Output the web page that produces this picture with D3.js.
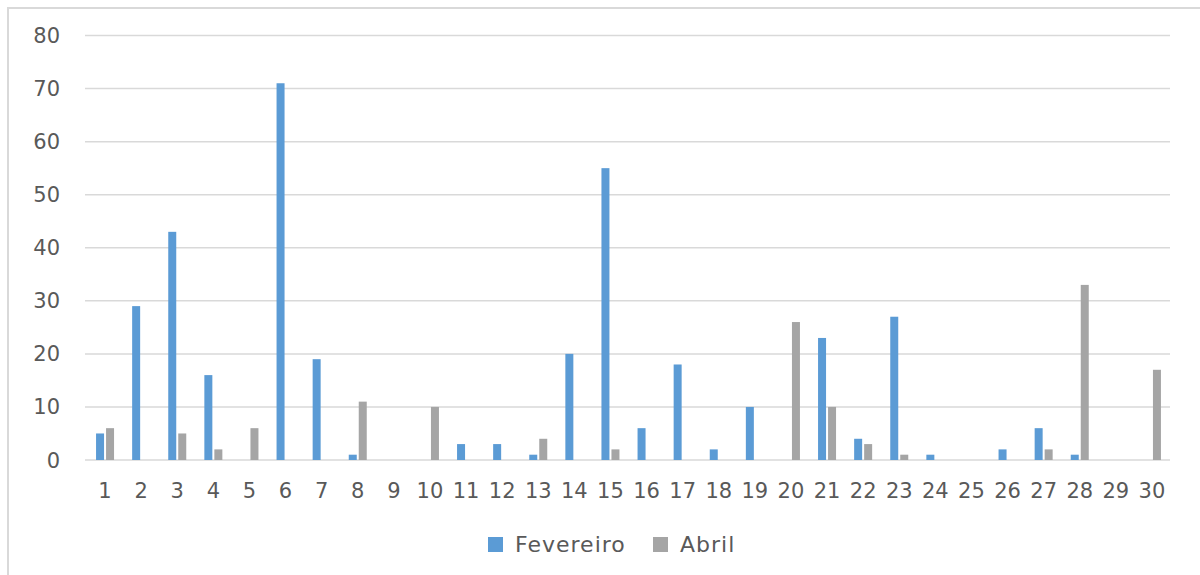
<!DOCTYPE html>
<html>
<head>
<meta charset="utf-8">
<script src="https://cdn.jsdelivr.net/npm/d3@7"></script>
<style>
  body { margin: 0; background: #fff; }
  text { font-family: "DejaVu Sans", sans-serif; fill: #595959; }
</style>
</head>
<body>
<svg width="1200" height="575"></svg>
<script>
const days = d3.range(1, 31).map(String);
const seriesNames = ["Fevereiro", "Abril"];
const fevereiro = [5, 29, 43, 16, 0, 71, 19, 1, 0, 0, 3, 3, 1, 20, 55, 6, 18, 2, 10, 0, 23, 4, 27, 1, 0, 2, 6, 1, 0, 0];
const abril = [6, 0, 5, 2, 6, 0, 0, 11, 0, 10, 0, 0, 4, 0, 2, 0, 0, 0, 0, 26, 10, 3, 1, 0, 0, 0, 2, 33, 0, 17];
const yTicks = [0, 10, 20, 30, 40, 50, 60, 70, 80];
const colors = ["#5b9bd5", "#a5a5a5"];

const svg = d3.select("svg");

// moldura do gráfico
svg.append("rect")
    .attr("x", 8).attr("y", 8)
    .attr("width", 1250).attr("height", 620)
    .attr("fill", "none")
    .attr("stroke", "#d9d9d9")
    .attr("stroke-width", 2);

const x = d3.scaleBand().domain(days).range([87, 1170]);
const x1 = d3.scaleBand().domain(seriesNames)
    .range([x.bandwidth() / 2 - 9, x.bandwidth() / 2 + 9])
    .paddingInner(0.2);
const y = d3.scaleLinear().domain([0, 80]).range([460, 35.5]);

// linhas de grade
svg.append("g")
    .selectAll("line")
    .data(yTicks)
    .enter()
    .append("line")
    .attr("x1", 85).attr("x2", 1170)
    .attr("y1", d => y(d)).attr("y2", d => y(d))
    .attr("stroke", "#d9d9d9")
    .attr("stroke-width", 1.5);

// rótulos do eixo y
svg.append("g")
    .selectAll("text")
    .data(yTicks)
    .enter()
    .append("text")
    .attr("x", 60)
    .attr("y", d => y(d))
    .attr("dy", "0.36em")
    .attr("text-anchor", "end")
    .attr("font-size", 21)
    .text(d => d);

// barras
const data = days.map((d, i) => ({ day: d, values: [fevereiro[i], abril[i]] }));
const groups = svg.append("g")
    .selectAll("g")
    .data(data)
    .enter()
    .append("g")
    .attr("transform", d => `translate(${x(d.day)},0)`);

groups.selectAll("rect")
    .data(d => d.values.map((v, k) => ({ name: seriesNames[k], v, k })))
    .enter()
    .append("rect")
    .attr("x", d => x1(d.name))
    .attr("width", x1.bandwidth())
    .attr("y", d => y(d.v))
    .attr("height", d => y(0) - y(d.v))
    .attr("fill", d => colors[d.k]);

// rótulos do eixo x
svg.append("g")
    .selectAll("text")
    .data(days)
    .enter()
    .append("text")
    .attr("x", d => x(d) + x.bandwidth() / 2)
    .attr("y", 490)
    .attr("dy", "0.36em")
    .attr("text-anchor", "middle")
    .attr("font-size", 21)
    .text(d => d);

// legenda
const legendX = [488, 653];
const legend = svg.append("g")
    .selectAll("g")
    .data(seriesNames)
    .enter()
    .append("g")
    .attr("transform", (d, i) => `translate(${legendX[i]},537)`);

legend.append("rect")
    .attr("width", 15).attr("height", 15)
    .attr("fill", (d, i) => colors[i]);

legend.append("text")
    .attr("x", 27)
    .attr("y", 7.5)
    .attr("dy", "0.36em")
    .attr("font-size", 22)
    .attr("letter-spacing", 1)
    .text(d => d);
</script>
</body>
</html>
